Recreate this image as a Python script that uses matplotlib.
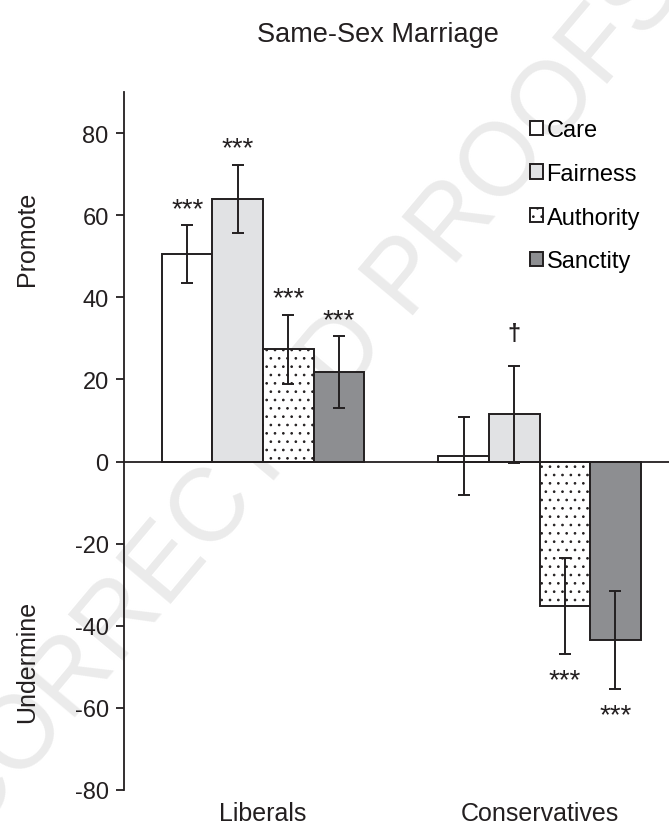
import numpy as np
import matplotlib.pyplot as plt

plt.rcParams['font.family'] = ['Liberation Sans', 'DejaVu Sans']

# data
groups = ['Liberals', 'Conservatives']
foundations = ['Care', 'Fairness', 'Authority', 'Sanctity']
means = {
    'Care':      [50.5, 1.3],
    'Fairness':  [64.0, 11.5],
    'Authority': [27.3, -35.3],
    'Sanctity':  [21.8, -43.5],
}
errors = {
    'Care':      [7.0, 9.5],
    'Fairness':  [8.3, 11.8],
    'Authority': [8.5, 11.7],
    'Sanctity':  [8.7, 12.0],
}
signif = {
    'Care':      ['***', ''],
    'Fairness':  ['***', '\u2020'],
    'Authority': ['***', '***'],
    'Sanctity':  ['***', '***'],
}
yticks = [-80, -60, -40, -20, 0, 20, 40, 60, 80]

ink = '#231f20'
faces = {'Care': 'white', 'Fairness': '#e1e2e4', 'Authority': 'white', 'Sanctity': '#8d8e91'}
hatches = {'Care': None, 'Fairness': None, 'Authority': '..', 'Sanctity': None}

plt.rcParams['hatch.linewidth'] = 0.7
plt.rcParams['hatch.color'] = ink

fig = plt.figure(figsize=(6.69, 8.28), dpi=100)
ax = fig.add_axes([0.1853, 0.0447, 0.8147, 0.843])
ax.patch.set_alpha(0)

# faint watermark behind the bars
ax.text(0.39, 0.45, 'UNCORRECTED PROOFS', transform=fig.transFigure, fontsize=74,
        color='#ebebeb', rotation=50, ha='center', va='center', zorder=1, clip_on=False)

x = np.arange(len(groups))
w = 0.183
for i, f in enumerate(foundations):
    pos = x + (i - 1.5) * w
    ax.bar(pos, means[f], w, color=faces[f], edgecolor=ink, linewidth=1.4,
           hatch=hatches[f], label=f, zorder=2)
    ax.errorbar(pos, means[f], yerr=errors[f], fmt='none', ecolor=ink,
                elinewidth=1.4, capsize=4.5, capthick=1.4, zorder=3)
    for j in range(len(groups)):
        s = signif[f][j]
        if not s:
            continue
        m, e = means[f][j], errors[f][j]
        if s == '\u2020':
            ax.text(pos[j], m + e + 5.0, s, ha='center', va='bottom', fontsize=17,
                    fontweight='bold', color=ink, zorder=5)
        elif m >= 0:
            ax.text(pos[j], m + e + 0.8, s, ha='center', va='bottom', fontsize=20, color=ink, zorder=5)
        else:
            ax.text(pos[j], m - e - 3.2, s, ha='center', va='top', fontsize=20, color=ink, zorder=5)

ax.axhline(0, color=ink, linewidth=1.3, zorder=4)

ax.set_xlim(-0.503, 1.468)
ax.set_ylim(-80, 90)
ax.set_yticks(yticks)
ax.set_yticklabels([str(t) for t in yticks], fontsize=17, color=ink)
ax.set_xticks(x)
ax.set_xticklabels(groups, fontsize=18, color=ink)
ax.tick_params(axis='x', length=0, pad=8)
ax.tick_params(axis='y', length=6, width=1.3, color=ink, pad=5)
for side in ['top', 'right', 'bottom']:
    ax.spines[side].set_visible(False)
ax.spines['left'].set_linewidth(1.3)
ax.spines['left'].set_color(ink)
ax.spines['left'].set_bounds(-80, 90)

leg = ax.legend(loc='upper left', bbox_to_anchor=(0.745, 0.961), frameon=False, fontsize=17,
                handlelength=0.55, handleheight=0.55, handletextpad=0.15, labelspacing=0.92,
                borderaxespad=0, borderpad=0)
leg.set_zorder(6)

fig.text(0.04, 0.711, 'Promote', rotation=90, ha='center', va='center', fontsize=18, color=ink)
fig.text(0.04, 0.2, 'Undermine', rotation=90, ha='center', va='center', fontsize=18, color=ink)
fig.text(0.565, 0.958, 'Same-Sex Marriage', ha='center', va='center', fontsize=19.5, color=ink)

fig.savefig('out.png', dpi=100)
